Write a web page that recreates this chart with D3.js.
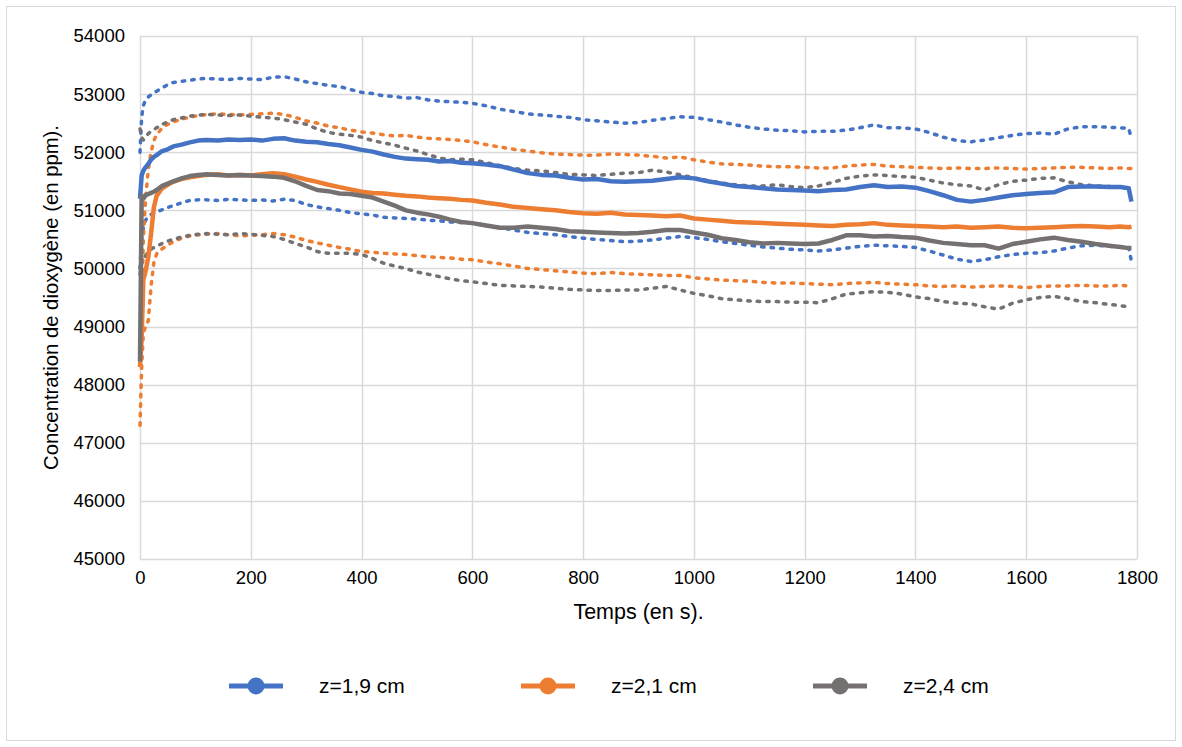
<!DOCTYPE html>
<html>
<head>
<meta charset="utf-8">
<script src="https://cdn.jsdelivr.net/npm/d3@7"></script>
<style>
  body { margin: 0; background: #fff; }
  svg { display: block; font-family: "Liberation Sans", Arial, sans-serif; }
</style>
</head>
<body>
<svg id="chart" width="1182" height="747"></svg>
<script>
// ---- data (time in s, concentration in ppm) ----
const times = [0,3,6,10,15,20,25,30,40,50,60,75,90,105,
  120,140,160,180,200,220,240,260,280,300,320,340,360,380,400,420,440,460,480,500,520,540,560,580,600,
  625,650,675,700,725,750,775,800,825,850,875,900,925,950,975,1000,1025,1050,1075,1100,1125,1150,1175,1200,
  1225,1250,1275,1300,1325,1350,1375,1400,1425,1450,1475,1500,1525,1550,1575,1600,1625,1650,1675,1700,1725,1750,
  1770,1785,1790];

const z19 = [51200,51600,51680,51740,51800,51870,51920,51950,52020,52050,52100,52130,52170,52200,
  52210,52200,52220,52210,52220,52200,52230,52240,52200,52180,52170,52140,52120,52080,52040,52010,51960,51920,51890,51880,51870,51840,51850,51820,51810,
  51790,51760,51700,51640,51610,51600,51560,51530,51540,51500,51490,51500,51510,51540,51570,51550,51500,51460,51420,51400,51380,51360,51350,51340,
  51330,51350,51360,51400,51430,51400,51410,51390,51330,51260,51180,51150,51180,51220,51260,51280,51300,51310,51400,51410,51410,51400,
  51400,51380,51150];
const z19Upper = [52000,52600,52800,52900,52950,52990,53020,53050,53110,53160,53200,53220,53240,53260,
  53270,53260,53250,53270,53260,53250,53290,53300,53260,53210,53180,53150,53130,53080,53030,53010,52970,52960,52930,52940,52900,52880,52870,52860,52840,
  52800,52740,52700,52660,52640,52620,52600,52560,52540,52520,52500,52510,52550,52580,52610,52600,52560,52520,52470,52430,52400,52380,52370,52350,
  52360,52360,52380,52420,52470,52420,52420,52400,52340,52260,52200,52180,52210,52250,52290,52320,52330,52310,52400,52440,52440,52430,
  52420,52410,52230];
const z19Lower = [50000,50500,50700,50830,50900,50930,50950,50970,51010,51050,51080,51130,51170,51180,
  51180,51170,51190,51180,51170,51180,51160,51190,51170,51100,51060,51030,51000,50960,50940,50920,50880,50870,50860,50850,50830,50820,50800,50790,50780,
  50740,50700,50660,50620,50600,50580,50550,50520,50500,50480,50460,50470,50490,50520,50550,50530,50500,50460,50430,50400,50370,50350,50330,50320,
  50300,50320,50350,50380,50400,50390,50380,50360,50300,50230,50160,50120,50150,50200,50240,50260,50270,50300,50350,50390,50400,50380,
  50370,50360,50120];

const z21 = [48300,48800,49800,49950,50200,50600,51050,51250,51380,51440,51490,51540,51570,51590,
  51610,51620,51600,51610,51600,51620,51640,51620,51580,51530,51490,51440,51400,51360,51320,51300,51290,51270,51250,51240,51220,51210,51200,51180,51170,
  51130,51100,51060,51040,51020,51000,50970,50950,50940,50960,50930,50920,50910,50900,50910,50860,50840,50820,50800,50790,50780,50770,50760,50750,
  50740,50730,50750,50760,50780,50750,50740,50730,50720,50710,50720,50700,50710,50720,50700,50690,50700,50710,50720,50730,50720,50710,
  50720,50710,50720];
const z21Upper = [48800,49200,50500,51200,51700,52000,52200,52300,52420,52480,52520,52570,52600,52630,
  52650,52660,52650,52640,52650,52660,52670,52650,52600,52540,52500,52450,52420,52380,52350,52330,52300,52280,52290,52260,52240,52230,52220,52200,52180,
  52130,52090,52050,52020,51990,51970,51960,51950,51950,51970,51960,51950,51930,51900,51920,51870,51830,51800,51790,51780,51760,51750,51750,51740,
  51730,51730,51760,51780,51790,51760,51750,51740,51730,51720,51730,51720,51720,51730,51720,51710,51720,51730,51740,51740,51730,51720,
  51730,51720,51720];
const z21Lower = [47300,48300,48900,49000,49100,49700,50100,50250,50340,50400,50460,50520,50560,50580,
  50590,50600,50580,50560,50570,50580,50600,50580,50540,50480,50440,50400,50360,50330,50290,50280,50260,50250,50240,50220,50200,50190,50180,50160,50150,
  50110,50080,50040,50000,49980,49960,49940,49920,49910,49930,49910,49900,49890,49880,49880,49840,49820,49800,49790,49780,49760,49750,49750,49740,
  49730,49720,49740,49750,49760,49740,49730,49720,49700,49690,49700,49680,49690,49700,49690,49670,49690,49700,49700,49710,49700,49700,
  49710,49700,49710];

const z24 = [48400,51250,51200,51260,51280,51300,51320,51350,51420,51460,51500,51550,51590,51610,
  51620,51610,51600,51610,51600,51590,51580,51560,51500,51420,51350,51330,51290,51280,51250,51220,51150,51080,51000,50960,50930,50890,50840,50800,50780,
  50740,50700,50700,50720,50700,50680,50640,50630,50620,50610,50600,50610,50630,50660,50660,50620,50580,50520,50490,50450,50430,50440,50430,50420,
  50430,50490,50570,50570,50550,50560,50540,50530,50480,50440,50420,50400,50400,50340,50420,50460,50500,50530,50490,50460,50420,50390,
  50370,50350,50350];
const z24Upper = [52400,52250,52210,52260,52320,52360,52390,52420,52480,52520,52560,52590,52620,52640,
  52650,52640,52630,52640,52620,52600,52590,52560,52520,52480,52400,52340,52310,52290,52260,52200,52160,52120,52070,52020,51960,51900,51870,51880,51870,
  51820,51770,51720,51690,51680,51650,51620,51610,51600,51620,51640,51650,51690,51660,51610,51560,51510,51470,51440,51420,51420,51440,51410,51390,
  51420,51480,51550,51590,51610,51600,51580,51570,51520,51470,51440,51420,51350,51440,51500,51520,51550,51560,51490,51440,51420,51410,
  51400,51380,51370];
const z24Lower = [49900,50100,50150,50220,50290,50330,50360,50380,50430,50470,50500,50540,50570,50590,
  50600,50590,50580,50600,50590,50570,50550,50500,50430,50370,50290,50260,50260,50260,50240,50170,50090,50040,50000,49940,49900,49860,49820,49790,49770,
  49740,49710,49700,49690,49680,49660,49640,49630,49620,49620,49630,49630,49660,49690,49630,49570,49530,49480,49460,49440,49430,49430,49420,49420,
  49410,49480,49560,49580,49600,49590,49560,49510,49480,49430,49400,49390,49340,49300,49400,49460,49500,49520,49480,49430,49410,49380,
  49360,49340,49340];

const seriesNames = ["z=1,9 cm", "z=2,1 cm", "z=2,4 cm"];
const seriesColors = ["#4472C4", "#ED7D31", "#767171"];
const xTicks = [0,200,400,600,800,1000,1200,1400,1600,1800];
const yTicks = [45000,46000,47000,48000,49000,50000,51000,52000,53000,54000];

// ---- layout ----
const svg = d3.select("#chart");
const W = 1182, H = 747;
const plot = {left: 140, right: 1137, top: 36, bottom: 559};

svg.append("rect").attr("x", 6.5).attr("y", 6.5).attr("width", W - 13).attr("height", H - 13)
  .attr("fill", "#fff").attr("stroke", "#d9d9d9").attr("stroke-width", 1);

const x = d3.scaleLinear().domain([0, 1800]).range([plot.left, plot.right]);
const y = d3.scaleLinear().domain([45000, 54000]).range([plot.bottom, plot.top]);

// gridlines
const grid = svg.append("g");
grid.selectAll("line.h").data(yTicks).join("line")
  .attr("x1", plot.left).attr("x2", plot.right)
  .attr("y1", d => Math.round(y(d)) + 0.5).attr("y2", d => Math.round(y(d)) + 0.5)
  .attr("stroke", "#d9d9d9").attr("stroke-width", 1.5);
grid.selectAll("line.v").data(xTicks).join("line")
  .attr("y1", plot.top).attr("y2", plot.bottom)
  .attr("x1", d => Math.round(x(d)) + 0.5).attr("x2", d => Math.round(x(d)) + 0.5)
  .attr("stroke", "#d9d9d9").attr("stroke-width", 1.5);

// axes (labels only)
const xAxis = d3.axisBottom(x).tickValues(xTicks).tickSize(0).tickPadding(12).tickFormat(d3.format("d"));
const yAxis = d3.axisLeft(y).tickValues(yTicks).tickSize(0).tickPadding(15).tickFormat(d3.format("d"));
const gx = svg.append("g").attr("transform", `translate(0,${plot.bottom})`).call(xAxis);
const gy = svg.append("g").attr("transform", `translate(${plot.left},0)`).call(yAxis);
[gx, gy].forEach(g => {
  g.select(".domain").remove();
  g.selectAll("text").attr("font-size", 18.5).attr("fill", "#000")
    .attr("font-family", "'Liberation Sans', Arial, sans-serif");
});

// titles
svg.append("text").attr("x", (plot.left + plot.right) / 2).attr("y", 619)
  .attr("text-anchor", "middle").attr("font-size", 21.5).attr("fill", "#000").text("Temps (en s).");
svg.append("text").attr("transform", `translate(58,${(plot.top + plot.bottom) / 2}) rotate(-90)`)
  .attr("text-anchor", "middle").attr("font-size", 20.3).attr("fill", "#000")
  .text("Concentration de dioxygène (en ppm).");

// lines
const line = d3.line().x((d, i) => x(times[i])).y(d => y(d));
const dotted = [
  [z19Upper, 0], [z19Lower, 0],
  [z21Upper, 1], [z21Lower, 1],
  [z24Upper, 2], [z24Lower, 2]
];
const solid = [[z19, 0], [z21, 1], [z24, 2]];

svg.append("g").selectAll("path").data(dotted).join("path")
  .attr("d", d => line(d[0]))
  .attr("fill", "none").attr("stroke", d => seriesColors[d[1]])
  .attr("stroke-width", 3.5).attr("stroke-linecap", "round").attr("stroke-linejoin", "round")
  .attr("stroke-dasharray", "2.5,7");

svg.append("g").selectAll("path").data(solid).join("path")
  .attr("d", d => line(d[0]))
  .attr("fill", "none").attr("stroke", d => seriesColors[d[1]])
  .attr("stroke-width", 4.5).attr("stroke-linejoin", "round");

// legend
const legendX = [229, 521, 813];
const lg = svg.append("g");
seriesNames.forEach((name, i) => {
  const g = lg.append("g").attr("transform", `translate(${legendX[i]},686)`);
  g.append("line").attr("x1", 0).attr("x2", 54).attr("y1", 0).attr("y2", 0)
    .attr("stroke", seriesColors[i]).attr("stroke-width", 5);
  g.append("circle").attr("cx", 27).attr("cy", 0).attr("r", 8.5).attr("fill", seriesColors[i]);
  g.append("text").attr("x", 90).attr("y", 7).attr("font-size", 21).attr("fill", "#000").text(name);
});
</script>
</body>
</html>
